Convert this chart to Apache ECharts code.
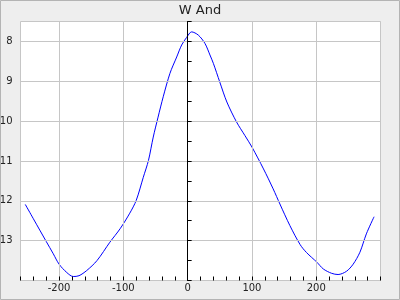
<!DOCTYPE html>
<html>
<head>
<meta charset="utf-8">
<script src="https://cdn.jsdelivr.net/npm/echarts@6/dist/echarts.min.js"></script>
<style>
html,body{margin:0;padding:0;background:#eeeeee;}
#chart{width:400px;height:300px;}
</style>
</head>
<body>
<div id="chart"></div>
<script>
var titleText = 'W And';
var phase = [-252.6, -240, -220, -209, -200, -188, -178, -169, -157, -141, -121, -105, -90, -80, -69, -61, -53.5, -46, -38, -27.5, -17, -9.3, -1.6, 6.2, 16.5, 26.9, 34.7, 40, 50, 61, 76, 89, 100, 118, 133, 143.5, 159, 175, 185, 201, 211, 224, 234, 247, 257.5, 268, 278, 290];
var mag = [12.09, 12.45, 13.02, 13.33, 13.59, 13.80, 13.90, 13.88, 13.75, 13.50, 13.04, 12.70, 12.31, 11.99, 11.41, 10.99, 10.40, 9.90, 9.39, 8.80, 8.39, 8.09, 7.90, 7.76, 7.84, 8.05, 8.34, 8.55, 9.02, 9.52, 10.02, 10.36, 10.65, 11.20, 11.70, 12.08, 12.62, 13.10, 13.30, 13.54, 13.71, 13.82, 13.85, 13.77, 13.59, 13.29, 12.83, 12.40];
var xTickLabels = [-200, -100, 0, 100, 200];
var yTickLabels = [8, 9, 10, 11, 12, 13];

var points = phase.map(function (p, i) { return [p, mag[i]]; });
var T = 'rgba(0,0,0,0)';
var G = '#c6c6c6';
var font = 'DejaVu Sans';

var chart = echarts.init(document.getElementById('chart'), null, {renderer: 'canvas'});
chart.setOption({
  animation: false,
  backgroundColor: '#eeeeee',
  title: {
    text: titleText, left: 'center', top: 4, padding: 0,
    textStyle: {fontSize: 13, fontWeight: 'normal', color: '#222', fontFamily: font}
  },
  graphic: [{
    type: 'rect', silent: true, z: 100,
    shape: {x: 0.5, y: 0.5, width: 399, height: 299},
    style: {fill: null, stroke: '#b4b4b4', lineWidth: 1}
  }],
  grid: {
    left: 20.5, right: 19.5, top: 21.5, bottom: 19.5,
    containLabel: false, outerBoundsMode: 'none',
    show: true, backgroundColor: '#ffffff', borderColor: G, borderWidth: 1
  },
  xAxis: {
    type: 'value', min: -260, max: 300, interval: 20,
    axisLine: {show: false, onZero: false},
    axisTick: {show: true, inside: true, length: 4, lineStyle: {color: '#000'}},
    axisLabel: {
      margin: 3, fontSize: 10, color: '#222', fontFamily: font,
      formatter: function (v) { return xTickLabels.indexOf(v) >= 0 ? String(v) : ''; }
    },
    splitLine: {show: true, lineStyle: {color: [T, T, T, G, T], width: 1}},
    z: 3
  },
  yAxis: {
    type: 'value', inverse: true, min: 7.5, max: 14, interval: 0.5,
    axisLine: {show: true, onZero: true, lineStyle: {color: '#000', width: 1}},
    axisTick: {show: true, inside: true, length: 4, lineStyle: {color: '#000'}},
    axisLabel: {
      margin: 8, fontSize: 10, color: '#222', fontFamily: font,
      formatter: function (v) { return yTickLabels.indexOf(v) >= 0 ? String(v) : ''; }
    },
    splitLine: {show: true, lineStyle: {color: [T, G], width: 1}},
    z: 3
  },
  series: [{
    type: 'line', data: points, showSymbol: false, smooth: 0.3,
    lineStyle: {color: '#0000ff', width: 1}, z: 2
  }]
});
</script>
</body>
</html>
